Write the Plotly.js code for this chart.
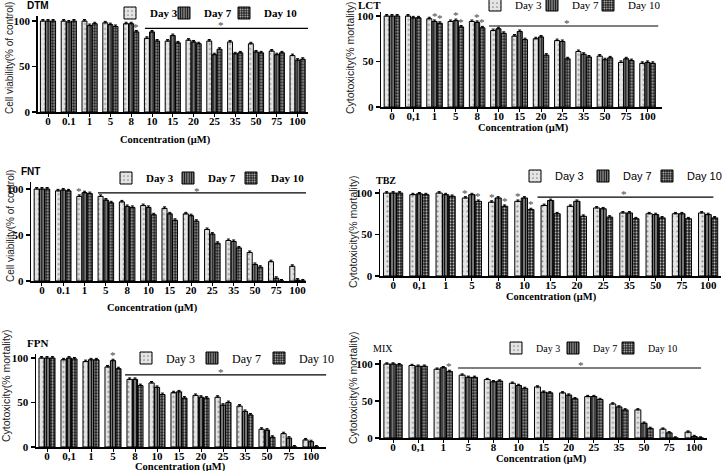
<!DOCTYPE html>
<html><head><meta charset="utf-8">
<script src="https://cdn.plot.ly/plotly-3.0.1.min.js"></script>
<style>html,body{margin:0;padding:0;background:#fff}#chart{width:722px;height:471px}</style>
</head><body><div id="chart"></div>
<script>
// ---------- DATA ----------
const ticksDot = ['0','0.1','1','5','8','10','15','20','25','35','50','75','100'];
const ticksComma = ['0','0,1','1','5','8','10','15','20','25','35','50','75','100'];
const seriesNames = ['Day 3','Day 7','Day 10'];

const dtmDay3  = [100,100,100,98,97,81,78,79,78,77,75,67,62];
const dtmDay7  = [100,99,95,96,97,88,84,77,63,64,66,63,57];
const dtmDay10 = [100,100,97,94,88,78,76,75,69,65,65,65,58];

const lctDay3  = [100,100,97,94,94,84,78,75,73,61,56,49,48];
const lctDay7  = [100,98,94,95,93,86,83,77,72,58,52,53,49];
const lctDay10 = [100,98,92,88,87,81,74,57,53,55,54,51,48];

const fntDay3  = [100,98,92,92,86,82,79,73,56,44,31,21,16];
const fntDay7  = [100,99,96,88,81,80,73,71,51,43,18,3,1];
const fntDay10 = [100,98,95,85,80,72,66,65,41,36,15,0,0];

const tbzDay3  = [100,98,100,94,89,90,85,84,82,76,75,75,76];
const tbzDay7  = [100,99,98,98,94,94,91,90,81,76,74,75,74];
const tbzDay10 = [100,98,96,90,84,80,75,72,71,69,70,69,70];

const fpnDay3  = [100,98,96,90,76,72,61,58,56,46,20,15,8];
const fpnDay7  = [100,100,98,97,76,67,62,56,47,40,19,10,6];
const fpnDay10 = [100,99,98,88,69,59,55,55,50,36,11,0,0];

const mixDay3  = [100,98,93,85,79,74,69,61,56,46,38,12,8];
const mixDay7  = [100,97,95,82,76,71,62,58,56,42,20,7,2];
const mixDay10 = [99,97,90,82,77,67,61,53,52,38,13,0,0];

// significance markers: [category index, day index]
const dtmStars = [[4,2]];
const lctStars = [[2,1],[2,2],[3,1],[3,2],[4,1],[4,2]];
const fntStars = [[2,0]];
const tbzStars = [[3,0],[3,2],[4,0],[4,2],[5,0],[5,2]];
const fpnStars = [[3,1]];
const mixStars = [[2,2]];

// ---------- STYLE / GEOMETRY ----------
const W = 722, H = 471;
const serif = 'Liberation Serif, Times New Roman, serif';
const sans = 'Liberation Sans, Arial, sans-serif';

const dayStyles = [
  {bg:'#e4e4e4', fg:'#8c8c8c', shape:'.', size:5, solidity:0.15},
  {bg:'#8a8a8a', fg:'#111111', shape:'|', size:3, solidity:0.45},
  {bg:'#1c1c1c', fg:'#c8c8c8', shape:'.', size:3, solidity:0.35}
];

const panels = [
  {title:'DTM', tFont:{family:sans,size:10,weight:'bold'}, tPos:[38,6],
   ticks:ticksDot, data:[dtmDay3,dtmDay7,dtmDay10], stars:dtmStars,
   yTitle:'Cell viability(% of control)', yFs:10, yTitlePos:[10,58],
   xTitlePos:[165,140],
   geo:{L:37.6, sp:20.8, xr:[-0.5,12.5], Y0:112, Y100:21, ymax:105},
   line:{x0:4.66, x1:12.6, y:92}, lineStar:{x:8.3, y:96},
   leg:{y:13, tx:[146,200,260], font:{family:serif,size:11,weight:'bold',color:'#000'}}},
  {title:'LCT', tFont:{family:serif,size:11,weight:'bold'}, tPos:[369,5],
   ticks:ticksComma, data:[lctDay3,lctDay7,lctDay10], stars:lctStars,
   yTitle:'Cytotoxicity(% mortality)', yFs:10.5, yTitlePos:[350,58],
   xTitlePos:[523,128],
   geo:{L:381.3, sp:21.3, xr:[-0.5,12.7], Y0:107, Y100:16, ymax:104},
   line:{x0:4.56, x1:12.5, y:89}, lineStar:{x:8.2, y:92},
   leg:{y:5, tx:[511,568,624], font:{family:serif,size:11,color:'#000'}}},
  {title:'FNT', tFont:{family:sans,size:10,weight:'bold'}, tPos:[30,172],
   ticks:ticksDot, data:[fntDay3,fntDay7,fntDay10], stars:fntStars,
   yTitle:'Cell viability(% of control)', yFs:10, yTitlePos:[10,226],
   xTitlePos:[152,308],
   geo:{L:31.3, sp:21.3, xr:[-0.5,12.4], Y0:281, Y100:189, ymax:108},
   line:{x0:2.63, x1:12.4, y:95.7}, lineStar:{x:7.3, y:98},
   leg:{y:178, tx:[142,204,267], font:{family:serif,size:11,weight:'bold',color:'#000'}}},
  {title:'TBZ', tFont:{family:serif,size:10,weight:'bold'}, tPos:[386,180],
   ticks:ticksComma, data:[tbzDay3,tbzDay7,tbzDay10], stars:tbzStars,
   yTitle:'Cytotoxicity(% mortality)', yFs:10.5, yTitlePos:[353,232],
   xTitlePos:[551,297],
   geo:{L:380, sp:26.25, xr:[-0.5,12.5], Y0:276, Y100:193, ymax:105},
   line:{x0:5.5, x1:12.2, y:95}, lineStar:{x:8.8, y:99},
   leg:{y:176, tx:[551,619,683], font:{family:sans,size:11,color:'#000'}}},
  {title:'FPN', tFont:{family:serif,size:11,weight:'bold'}, tPos:[37,343],
   ticks:ticksComma, data:[fpnDay3,fpnDay7,fpnDay10], stars:fpnStars,
   yTitle:'Cytotoxicity(% mortality)', yFs:10.5, yTitlePos:[6,386],
   xTitlePos:[180,467],
   geo:{L:36, sp:22, xr:[-0.5,12.7], Y0:447, Y100:358, ymax:104},
   line:{x0:3.55, x1:12.7, y:81}, lineStar:{x:7.9, y:84},
   leg:{y:358, tx:[162,228,295], font:{family:serif,size:12,color:'#000'}}},
  {title:'MIX', tFont:{family:serif,size:10}, tPos:[383,348],
   ticks:ticksComma, data:[mixDay3,mixDay7,mixDay10], stars:mixStars,
   yTitle:'Cytotoxicity(% mortality)', yFs:10.5, yTitlePos:[353,388],
   xTitlePos:[541,459],
   geo:{L:380.5, sp:25.1, xr:[-0.5,12.5], Y0:438, Y100:364, ymax:105},
   line:{x0:2.59, x1:12.27, y:94.6}, lineStar:{x:7.5, y:98},
   leg:{y:348, tx:[532,589,644], font:{family:serif,size:10,color:'#000'}}}
];

const traces = [];
const layout = {
  width: W, height: H, margin:{l:0,r:0,t:0,b:0, autoexpand:false},
  paper_bgcolor:'#fff', plot_bgcolor:'rgba(0,0,0,0)',
  barmode:'group', bargap:0.26, bargroupgap:0.04,
  showlegend:true, annotations:[], shapes:[]
};

const barOffset = [-0.247, 0, 0.247];
let legIdx = 0;

panels.forEach((p, i) => {
  const n = i + 1;
  const xa = 'xaxis' + (n === 1 ? '' : n), ya = 'yaxis' + (n === 1 ? '' : n);
  const xr = 'x' + (n === 1 ? '' : n), yr = 'y' + (n === 1 ? '' : n);
  const g = p.geo;
  const ppu = (g.Y0 - g.Y100) / 100;
  const Ytop = g.Y0 - g.ymax * ppu;
  const R = g.L + (g.xr[1] - g.xr[0]) * g.sp;
  layout[xa] = {
    domain:[g.L / W, Math.min(R / W, 1)], anchor: yr, type:'category', range: g.xr,
    showline:true, linecolor:'#000', linewidth:1.5, ticks:'outside', ticklen:3, tickwidth:1,
    tickcolor:'#000', showgrid:false, zeroline:false, fixedrange:true, automargin:false,
    ticklabelstandoff:-5,
    tickfont:{family:serif, size:11, weight:'bold', color:'#000'}
  };
  layout[ya] = {
    domain:[1 - g.Y0 / H, 1 - Ytop / H], anchor: xr, range:[0, g.ymax],
    tickvals:[0,50,100], ticktext:['0','50','100'],
    showline:true, linecolor:'#000', linewidth:1.5, ticks:'outside', ticklen:4, tickwidth:1.2,
    tickcolor:'#000', showgrid:false, zeroline:false, fixedrange:true, automargin:false,
    tickfont:{family:serif, size:11, weight:'bold', color:'#000'}
  };
  p.data.forEach((vals, d) => {
    legIdx += 1;
    const legName = legIdx === 1 ? 'legend' : 'legend' + legIdx;
    const s = dayStyles[d];
    traces.push({
      type:'bar', x:p.ticks, y:vals, name:seriesNames[d], xaxis:xr, yaxis:yr,
      legend: legName, showlegend:true, hoverinfo:'skip',
      marker:{color:s.bg, line:{color:'#000', width:1},
        pattern:{shape:s.shape, fgcolor:s.fg, bgcolor:s.bg, size:s.size, solidity:s.solidity}},
      error_y:{type:'constant', value:1.6, valueminus:0, symmetric:false, color:'#000', thickness:1, width:1.5}
    });
    layout[legName] = {
      x:(p.leg.tx[d] - 36) / W, y:1 - p.leg.y / H, xanchor:'left', yanchor:'middle',
      orientation:'h', bgcolor:'rgba(0,0,0,0)', borderwidth:0, font:p.leg.font,
      itemclick:false, itemdoubleclick:false
    };
  });
  // significance line + star
  layout.shapes.push({type:'line', xref:xr, yref:yr, x0:p.line.x0, x1:p.line.x1, y0:p.line.y, y1:p.line.y,
    line:{color:'#000', width:1.2}});
  layout.annotations.push({xref:xr, yref:yr, x:p.lineStar.x, y:p.lineStar.y, text:'*', showarrow:false,
    xanchor:'center', yanchor:'middle', font:{family:serif, size:11, color:'#444'}});
  p.stars.forEach(([c, d]) => {
    layout.annotations.push({xref:xr, yref:yr, x:c + barOffset[d], y:p.data[d][c] + 1.5,
      xanchor:'center', yanchor:'bottom', yshift:-4,
      text:'*', showarrow:false, font:{family:serif, size:11, color:'#444'}});
  });
  // titles
  layout.annotations.push({xref:'paper', yref:'paper', x:p.tPos[0] / W, y:1 - p.tPos[1] / H,
    xanchor:'center', yanchor:'middle',
    text:p.title, showarrow:false, font:Object.assign({color:'#000'}, p.tFont)});
  layout.annotations.push({xref:'paper', yref:'paper', x:p.yTitlePos[0] / W, y:1 - p.yTitlePos[1] / H,
    xanchor:'center', yanchor:'middle',
    text:p.yTitle, textangle:-90, showarrow:false, font:{family:sans, size:p.yFs, color:'#222'}});
  layout.annotations.push({xref:'paper', yref:'paper', x:p.xTitlePos[0] / W, y:1 - p.xTitlePos[1] / H,
    xanchor:'center', yanchor:'middle',
    text:'Concentration (μM)', showarrow:false, font:{family:serif, size:10.5, weight:'bold', color:'#000'}});
});

Plotly.newPlot('chart', traces, layout, {displayModeBar:false, staticPlot:true});
</script>
</body></html>
